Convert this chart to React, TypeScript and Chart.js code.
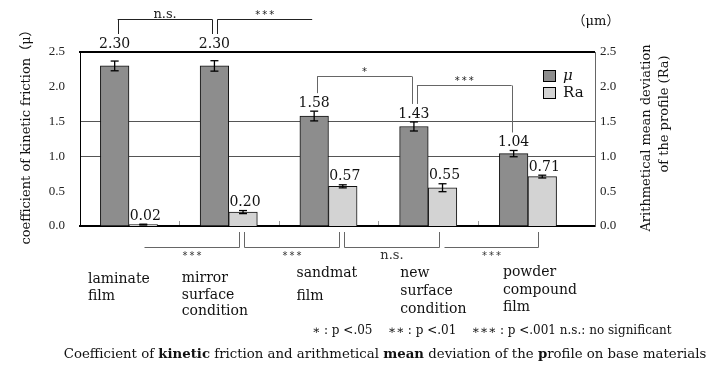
import { useEffect, useRef } from 'react';
import { Chart, registerables } from 'chart.js';

Chart.register(...registerables);

// ---------- data ----------
const categoryLabels = [
  ['laminate', 'film'],
  ['mirror', 'surface', 'condition'],
  ['sandmat', 'film'],
  ['new', 'surface', 'condition'],
  ['powder', 'compound', 'film'],
];
const seriesNames = ['μ', 'Ra'];
const muValues = [2.3, 2.3, 1.58, 1.43, 1.04];
const muErrors = [0.07, 0.075, 0.07, 0.065, 0.045];
const raValues = [0.02, 0.2, 0.57, 0.55, 0.71];
const raErrors = [0.006, 0.022, 0.022, 0.057, 0.02];
const yTickValues = [0, 0.5, 1, 1.5, 2, 2.5];
const gridLineValues = [1, 1.5];
const leftAxisTitle = 'coefficient of kinetic friction（μ）';
const rightAxisTitle = ['Arithmetical mean deviation', 'of the profile (Ra)'];
const unitLabel = '（μm）';
const footnote = '∗ : p <.05    ∗∗ : p <.01    ∗∗∗ : p <.001 n.s.: no significant';
const captionParts: [string, boolean][] = [
  ['Coefficient of ', false],
  ['kinetic', true],
  [' friction and arithmetical ', false],
  ['mean', true],
  [' deviation of the ', false],
  ['p', true],
  ['rofile on base materials', false],
];

// significance brackets (between groups)
const topBrackets = [
  { from: 0, to: 1, level: 2.98, text: 'n.s.', ends: [true, true] },
  { from: 1, to: 2, level: 2.98, text: '***', ends: [true, false] },
  { from: 2, to: 3, level: 2.155, text: '*', ends: [true, true] },
  { from: 3, to: 4, level: 2.025, text: '***', ends: [true, true] },
];
const bottomBrackets = [
  { from: 0, to: 1, text: '***', ends: [false, true] },
  { from: 1, to: 2, text: '***', ends: [true, true] },
  { from: 2, to: 3, text: 'n.s.', ends: [true, true] },
  { from: 3, to: 4, text: '***', ends: [false, true] },
];

// ---------- layout / style ----------
const L = {
  width: 728,
  height: 385,
  plotLeft: 80,
  plotRight: 595,
  plotTop: 52,
  plotBottom: 226,
  xMin: -0.491,
  xMax: 4.672,
  barThickness: 28.6,
};
const MU_COLOR = '#8d8d8d';
const RA_COLOR = '#d3d3d3';
const SERIF = '"DejaVu Serif", "Noto Sans CJK JP", serif';
// per category: x offset of the left edge from group centre, first baseline below plot, line gap
const labelLayout = [
  { dx: -41, y: 57, gap: 17 },
  { dx: -47, y: 56, gap: 16.5 },
  { dx: -32, y: 51, gap: 23 },
  { dx: -28, y: 51, gap: 18 },
  { dx: -25, y: 50, gap: 17.5 },
];

function line(ctx: CanvasRenderingContext2D, x1: number, y1: number, x2: number, y2: number) {
  ctx.beginPath();
  ctx.moveTo(x1, y1);
  ctx.lineTo(x2, y2);
  ctx.stroke();
}

function drawStars(ctx: CanvasRenderingContext2D, text: string, cx: number, cy: number) {
  const n = text.length;
  ctx.font = '10px "DejaVu Sans", sans-serif';
  ctx.textAlign = 'center';
  ctx.textBaseline = 'middle';
  for (let k = 0; k < n; k++) {
    ctx.fillText('*', cx + (k - (n - 1) / 2) * 7, cy + 2);
  }
}

const annotationPlugin = {
  id: 'annotations',
  beforeDraw(chart: any) {
    const { ctx, width, height } = chart;
    ctx.save();
    ctx.fillStyle = '#fff';
    ctx.fillRect(0, 0, width, height);
    ctx.restore();
  },
  afterDatasetsDraw(chart: any) {
    const { ctx, chartArea: area, scales } = chart;
    const y = scales.y;
    const x = scales.x;
    const muMeta = chart.getDatasetMeta(0);
    const raMeta = chart.getDatasetMeta(1);
    const series = [
      { meta: muMeta, values: muValues, errors: muErrors, dx: 0 },
      { meta: raMeta, values: raValues, errors: raErrors, dx: 2 },
    ];
    ctx.save();

    // top frame line
    ctx.strokeStyle = '#000';
    ctx.lineWidth = 2;
    line(ctx, area.left - 1, area.top, area.right, area.top);

    // small boundary marks on the bottom axis
    ctx.strokeStyle = '#999';
    ctx.lineWidth = 1;
    for (let i = 0; i < categoryLabels.length - 1; i++) {
      const px = Math.round(x.getPixelForValue(i + 0.5)) + 0.5;
      line(ctx, px, area.bottom - 5, px, area.bottom - 1);
    }

    // error bars
    ctx.strokeStyle = '#000';
    ctx.lineWidth = 1.3;
    series.forEach((s) =>
      s.values.forEach((v, i) => {
        const bx = s.meta.data[i].x;
        const yt = y.getPixelForValue(v + s.errors[i]);
        const yb = y.getPixelForValue(v - s.errors[i]);
        line(ctx, bx, yt, bx, yb);
        line(ctx, bx - 4, yt, bx + 4, yt);
        line(ctx, bx - 4, yb, bx + 4, yb);
      })
    );

    // value labels
    const labelCenter = (si: number, i: number) => {
      const s = series[si];
      const yc = y.getPixelForValue(s.values[i] + s.errors[i]) - 9;
      return yc < area.top + 8 ? area.top - 9 : yc;
    };
    ctx.fillStyle = '#111';
    ctx.font = `14px ${SERIF}`;
    ctx.textAlign = 'center';
    ctx.textBaseline = 'middle';
    series.forEach((s, si) =>
      s.values.forEach((v, i) => {
        ctx.fillText(v.toFixed(2), s.meta.data[i].x + s.dx, labelCenter(si, i) + 1);
      })
    );

    // top significance brackets (on μ bars)
    topBrackets.forEach((b, bi) => {
      const x1 = muMeta.data[b.from].x + 3;
      const x2 = muMeta.data[b.to].x - 2;
      const ly = Math.round(y.getPixelForValue(b.level)) + 0.5;
      ctx.strokeStyle = bi < 2 ? '#222' : '#666';
      ctx.lineWidth = 1;
      line(ctx, x1, ly, x2, ly);
      if (b.ends[0]) line(ctx, Math.round(x1) + 0.5, ly, Math.round(x1) + 0.5, labelCenter(0, b.from) - 9);
      if (b.ends[1]) line(ctx, Math.round(x2) + 0.5, ly, Math.round(x2) + 0.5, labelCenter(0, b.to) - 9);
      ctx.fillStyle = '#222';
      const cx = (x1 + x2) / 2;
      if (b.text.startsWith('*')) {
        drawStars(ctx, b.text, cx, ly - 6);
      } else {
        ctx.font = `13px ${SERIF}`;
        ctx.textAlign = 'center';
        ctx.textBaseline = 'alphabetic';
        ctx.fillText(b.text, cx, ly - 2);
      }
    });

    // bottom significance brackets (on Ra bars)
    const by = area.bottom + 21.5;
    bottomBrackets.forEach((b) => {
      const x1 = Math.round(raMeta.data[b.from].x + 1) + 0.5;
      const x2 = Math.round(raMeta.data[b.to].x - 4) + 0.5;
      ctx.strokeStyle = '#666';
      ctx.lineWidth = 1;
      line(ctx, x1, by, x2, by);
      if (b.ends[0]) line(ctx, x1, area.bottom + 6, x1, by);
      if (b.ends[1]) line(ctx, x2, area.bottom + 6, x2, by);
      ctx.fillStyle = '#333';
      const cx = (x1 + x2) / 2;
      if (b.text.startsWith('*')) {
        drawStars(ctx, b.text, cx, by + 7);
      } else {
        ctx.font = `13px ${SERIF}`;
        ctx.textAlign = 'center';
        ctx.textBaseline = 'alphabetic';
        ctx.fillText(b.text, cx, by + 11);
      }
    });

    // category labels
    ctx.fillStyle = '#111';
    ctx.font = `14px ${SERIF}`;
    ctx.textAlign = 'left';
    ctx.textBaseline = 'alphabetic';
    categoryLabels.forEach((lines, i) => {
      const lay = labelLayout[i];
      const lx = x.getPixelForValue(i) + lay.dx;
      lines.forEach((t, k) => ctx.fillText(t, lx, area.bottom + lay.y + k * lay.gap));
    });

    // legend
    const lx = area.right - 52;
    [
      { color: MU_COLOR, text: seriesNames[0], top: area.top + 18, italic: true },
      { color: RA_COLOR, text: seriesNames[1], top: area.top + 35, italic: false },
    ].forEach((it) => {
      ctx.fillStyle = it.color;
      ctx.fillRect(lx, it.top, 13, 12);
      ctx.strokeStyle = '#000';
      ctx.lineWidth = 1;
      ctx.strokeRect(lx + 0.5, it.top + 0.5, 12, 11);
      ctx.fillStyle = '#111';
      ctx.font = `${it.italic ? 'italic ' : ''}15px ${SERIF}`;
      ctx.textAlign = 'left';
      ctx.textBaseline = 'middle';
      ctx.fillText(it.text, lx + 20, it.top + 6);
    });

    // axis titles
    ctx.fillStyle = '#111';
    ctx.font = `13px ${SERIF}`;
    ctx.textAlign = 'center';
    ctx.textBaseline = 'middle';
    ctx.save();
    ctx.translate(27, area.top + 82);
    ctx.rotate(-Math.PI / 2);
    ctx.fillText(leftAxisTitle, 0, 0);
    ctx.restore();

    ctx.save();
    ctx.translate(area.right + 52, area.top + 86);
    ctx.rotate(-Math.PI / 2);
    ctx.fillText(rightAxisTitle[0], 0, 0);
    ctx.restore();
    ctx.save();
    ctx.translate(area.right + 70, area.top + 62);
    ctx.rotate(-Math.PI / 2);
    ctx.fillText(rightAxisTitle[1], 0, 0);
    ctx.restore();

    ctx.font = `13px ${SERIF}`;
    ctx.fillText(unitLabel, area.right + 1, area.top - 30);

    // footnote
    ctx.font = `12px ${SERIF}`;
    ctx.textAlign = 'left';
    ctx.textBaseline = 'alphabetic';
    ctx.fillText(footnote, 312, 334);

    // caption
    const capSize = 13.3;
    let total = 0;
    captionParts.forEach(([t, bold]) => {
      ctx.font = `${bold ? 'bold ' : ''}${capSize}px ${SERIF}`;
      total += ctx.measureText(t).width;
    });
    let cx = 385 - total / 2;
    captionParts.forEach(([t, bold]) => {
      ctx.font = `${bold ? 'bold ' : ''}${capSize}px ${SERIF}`;
      ctx.fillText(t, cx, 358);
      cx += ctx.measureText(t).width;
    });

    ctx.restore();
  },
};

export default function App() {
  const ref = useRef<HTMLCanvasElement>(null);
  useEffect(() => {
    document.body.style.margin = '0';
    const canvas = ref.current!;
    const tickFont = { family: '"Liberation Serif", serif', size: 13 };
    const chart = new Chart(canvas, {
      type: 'bar',
      data: {
        datasets: [
          {
            label: seriesNames[0],
            data: muValues.map((v, i) => ({ x: i, y: v })),
            backgroundColor: MU_COLOR,
            borderColor: '#111',
            borderWidth: 1,
            yAxisID: 'y',
            barThickness: L.barThickness,
          },
          {
            label: seriesNames[1],
            data: raValues.map((v, i) => ({ x: i, y: v })),
            backgroundColor: RA_COLOR,
            borderColor: '#111',
            borderWidth: 1,
            yAxisID: 'y2',
            barThickness: L.barThickness,
          },
        ],
      } as any,
      options: {
        responsive: false,
        animation: false,
        events: [],
        layout: { padding: { top: L.plotTop, left: 0, right: 0, bottom: 0 } },
        plugins: { legend: { display: false }, tooltip: { enabled: false } },
        scales: {
          x: {
            type: 'linear',
            offset: false,
            min: L.xMin,
            max: L.xMax,
            ticks: { display: false },
            grid: { display: false, drawTicks: false, offset: false },
            border: { color: '#000', width: 2 },
            afterFit: (s: any) => {
              s.height = L.height - L.plotBottom;
            },
          },
          y: {
            position: 'left',
            min: 0,
            max: 2.5,
            afterBuildTicks: (s: any) => {
              s.ticks = yTickValues.map((v) => ({ value: v }));
            },
            ticks: {
              callback: (v: any) => Number(v).toFixed(1),
              padding: 15,
              color: '#222',
              font: tickFont,
            },
            grid: {
              drawTicks: false,
              color: (c: any) => (c.tick && gridLineValues.includes(c.tick.value) ? '#555' : 'rgba(0,0,0,0)'),
              lineWidth: 1,
            },
            border: { color: '#000', width: 1 },
            afterFit: (s: any) => {
              s.width = L.plotLeft;
            },
          },
          y2: {
            position: 'right',
            min: 0,
            max: 2.5,
            afterBuildTicks: (s: any) => {
              s.ticks = yTickValues.map((v) => ({ value: v }));
            },
            ticks: {
              callback: (v: any) => Number(v).toFixed(1),
              padding: 5,
              color: '#222',
              font: tickFont,
            },
            grid: { display: false, drawTicks: false },
            border: { color: '#666', width: 1 },
            afterFit: (s: any) => {
              s.width = L.width - L.plotRight;
            },
          },
        },
      } as any,
      plugins: [annotationPlugin],
    });
    return () => chart.destroy();
  }, []);
  return (
    <canvas
      ref={ref}
      width={L.width}
      height={L.height}
      style={{ display: 'block', width: L.width, height: L.height }}
    />
  );
}
